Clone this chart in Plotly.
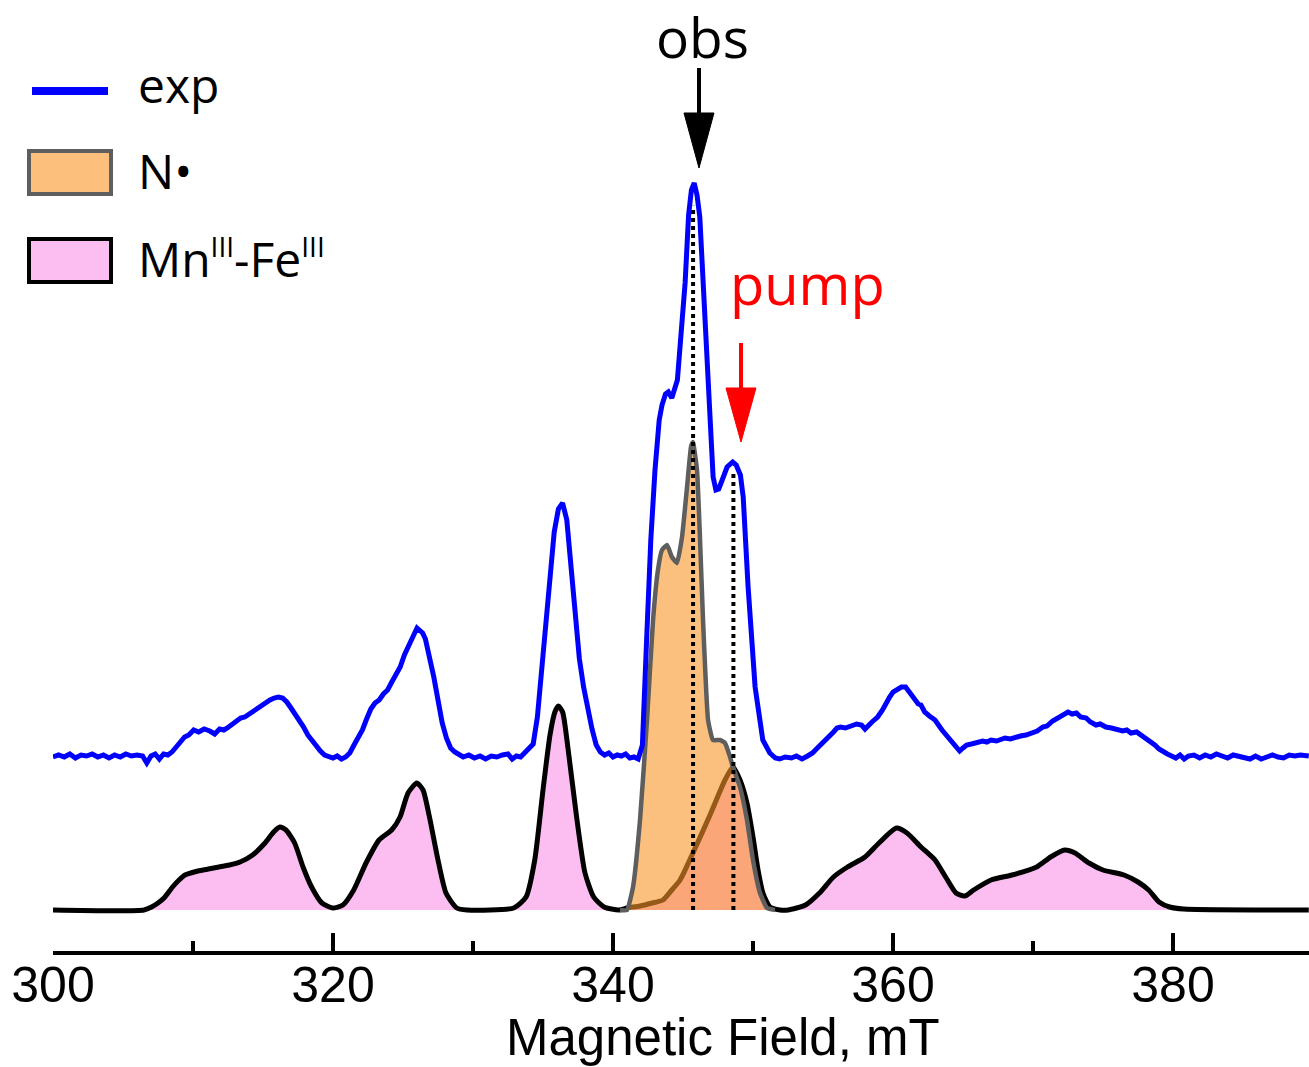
import numpy as np
import plotly.graph_objects as go

# ---------------- data ----------------
exp_field = [300.0, 300.4, 300.8, 301.2, 301.6, 302.0, 302.4, 302.8, 303.2, 303.6, 304.0, 304.4, 304.8, 305.2,
             305.6, 306.0, 306.4, 306.7, 307.0, 307.3, 307.6, 307.9, 308.2, 308.5, 308.8, 309.1, 309.4, 309.7,
             310.05, 310.4, 310.8, 311.2, 311.55, 311.9, 312.2, 312.45, 312.8, 313.1, 313.4, 313.7, 314.0, 314.3,
             314.6, 314.9, 315.2, 315.5, 315.8, 316.1, 316.4, 316.7, 317.0, 317.3, 317.6, 317.9, 318.2, 318.5,
             318.8, 319.1, 319.4, 319.7, 320.0, 320.3, 320.6, 320.9, 321.2, 321.5, 321.8, 322.1, 322.4, 322.7,
             323.0, 323.3, 323.6, 323.9, 324.2, 324.5, 324.8, 325.1, 325.4, 325.7, 326.0, 326.2, 326.4, 326.6,
             326.9, 327.2, 327.5, 327.8, 328.1, 328.4, 328.7, 329.0, 329.3, 329.7, 330.1, 330.5, 330.9, 331.3,
             331.7, 332.1, 332.5, 332.8, 333.1, 333.4, 333.7, 334.0, 334.3, 334.6, 334.9, 335.2, 335.5, 335.8,
             336.1, 336.4, 336.7, 337.0, 337.3, 337.6, 337.9, 338.2, 338.5, 338.8, 339.1, 339.4, 339.7, 340.0,
             340.3, 340.6, 340.9, 341.2, 341.5, 341.8, 342.1, 342.4, 342.7, 343.0, 343.3, 343.5, 343.75, 343.95,
             344.2, 344.6, 344.9, 345.15, 345.4, 345.6, 345.8, 346.0, 346.2, 346.45, 346.7, 346.95, 347.15,
             347.35, 347.55, 347.8, 348.15, 348.55, 348.8, 349.1, 349.3, 349.65, 350.15, 350.7, 351.2, 351.6,
             351.9, 352.3, 352.75, 353.1, 353.5, 353.9, 354.25, 354.6, 355.0, 355.4, 355.75, 356.0, 356.25,
             356.6, 357.0, 357.4, 357.75, 358.0, 358.5, 358.9, 359.25, 359.5, 359.76, 360.0, 360.3, 360.6, 360.9,
             361.1, 361.5, 361.8, 362.0, 362.26, 362.6, 363.0, 363.5, 363.8, 364.14, 364.5, 364.76, 365.0,
             365.26, 365.6, 366.0, 366.4, 366.7, 367.0, 367.4, 367.7, 368.0, 368.4, 368.8, 369.1, 369.5, 369.9,
             370.3, 370.7, 371.0, 371.4, 371.8, 372.2, 372.5, 372.8, 373.1, 373.4, 373.8, 374.1, 374.5, 374.8,
             375.2, 375.6, 376.0, 376.4, 376.7, 377.0, 377.4, 377.8, 378.1, 378.4, 378.7, 379.0, 379.3, 379.6,
             379.9, 380.2, 380.5, 380.8, 381.1, 381.5, 381.9, 382.3, 382.7, 383.1, 383.5, 383.9, 384.3, 384.7,
             385.1, 385.5, 385.9, 386.3, 386.7, 387.1, 387.5, 387.9, 388.3, 388.7, 389.1, 389.7]
exp_intensity = [0.00, 0.02, 0.00, 0.03, -0.01, 0.02, 0.01, 0.03, 0.00, 0.02, -0.01, 0.02, 0.00, 0.03,
                 0.01, 0.02, 0.01, -0.06, 0.01, 0.03, -0.02, 0.03, 0.02, 0.05, 0.10, 0.16, 0.20, 0.22,
                 0.27, 0.25, 0.28, 0.26, 0.23, 0.28, 0.27, 0.29, 0.33, 0.35, 0.39, 0.40, 0.43, 0.45,
                 0.48, 0.52, 0.55, 0.57, 0.59, 0.60, 0.59, 0.55, 0.49, 0.43, 0.37, 0.30, 0.22, 0.16,
                 0.10, 0.06, 0.02, 0.00, -0.01, 0.01, -0.02, 0.00, 0.04, 0.12, 0.20, 0.27, 0.38, 0.48,
                 0.54, 0.57, 0.63, 0.67, 0.75, 0.82, 0.90, 1.02, 1.10, 1.20, 1.29, 1.26, 1.24, 1.18,
                 1.01, 0.80, 0.57, 0.34, 0.19, 0.09, 0.05, 0.03, 0.00, 0.02, -0.01, 0.01, -0.02, 0.01,
                 0.00, 0.02, 0.03, -0.02, 0.01, 0.00, 0.04, 0.08, 0.13, 0.40, 0.85, 1.35, 1.80, 2.25,
                 2.48, 2.54, 2.37, 1.87, 1.37, 0.98, 0.70, 0.48, 0.28, 0.12, 0.05, 0.02, 0.04, 0.00,
                 0.02, 0.01, 0.03, -0.01, 0.00, -0.02, 0.12, 1.17, 2.17, 2.87, 3.37, 3.52, 3.63, 3.65,
                 3.59, 3.77, 4.24, 4.74, 5.42, 5.67, 5.74, 5.62, 5.40, 4.74, 4.07, 3.40, 2.80,
                 2.67, 2.68, 2.77, 2.90, 2.95, 2.92, 2.82, 2.60, 1.70, 0.70, 0.17, 0.04, -0.01,
                 -0.02, 0.00, -0.01, 0.01, -0.02, 0.01, 0.04, 0.09, 0.14, 0.20, 0.25, 0.29, 0.30,
                 0.29, 0.31, 0.33, 0.32, 0.28, 0.35, 0.40, 0.47, 0.54, 0.60, 0.65, 0.68, 0.70, 0.70,
                 0.66, 0.57, 0.53, 0.52, 0.45, 0.41, 0.37, 0.27, 0.22, 0.17, 0.11, 0.06, 0.09,
                 0.12, 0.13, 0.14, 0.16, 0.15, 0.17, 0.16, 0.18, 0.19, 0.18, 0.20, 0.21, 0.22, 0.24,
                 0.26, 0.30, 0.31, 0.36, 0.39, 0.43, 0.45, 0.43, 0.44, 0.40, 0.39, 0.35, 0.32, 0.33,
                 0.30, 0.29, 0.28, 0.26, 0.27, 0.24, 0.25, 0.21, 0.19, 0.16, 0.12, 0.08, 0.05, 0.03,
                 0.01, -0.01, 0.02, -0.02, 0.01, 0.02, -0.01, 0.02, 0.00, 0.03, 0.01, -0.01, 0.02, 0.01,
                 -0.01, -0.02, 0.01, -0.02, 0.00, 0.02, 0.00, -0.01, 0.02, 0.01, 0.02, 0.01]

mn_field = [300.0, 306.5, 307.04, 307.5, 307.93, 308.54, 309.0, 309.43, 310.36, 311.1, 311.86, 312.6, 313.36,
            314.26, 315.14, 315.76, 316.21, 316.64, 317.26, 317.86, 318.47, 319.21, 319.97, 320.71, 321.48,
            322.36, 323.29, 324.19, 324.79, 325.36, 325.99, 326.43, 326.89, 327.5, 328.07, 328.84, 329.57,
            332.91, 333.79, 334.41, 335.0, 335.5, 335.85, 336.1, 336.4, 336.8, 337.4, 338.0, 338.62, 339.36,
            340.43, 341.0, 341.93, 342.8, 343.57, 344.2, 344.79, 345.71, 346.93, 348.0, 348.57, 349.07,
            349.57, 350.0, 350.36, 350.71, 351.21, 351.93, 352.5, 353.75, 354.75, 355.75, 356.75, 358.0,
            359.0, 360.25, 361.0, 362.0, 363.0, 363.76, 364.5, 365.13, 365.76, 367.0, 368.5, 370.26,
            371.26, 372.26, 373.0, 374.0, 375.0, 376.5, 377.5, 378.26, 379.0, 379.76, 380.76, 389.7]
mn_intensity = [0.0, 0.0, 0.03, 0.07, 0.12, 0.23, 0.30, 0.35, 0.39, 0.41, 0.43, 0.45, 0.48,
                0.55, 0.67, 0.78, 0.83, 0.80, 0.67, 0.43, 0.23, 0.07, 0.02, 0.05, 0.20,
                0.47, 0.70, 0.80, 0.93, 1.17, 1.27, 1.20, 0.93, 0.50, 0.17, 0.02, 0.0,
                0.02, 0.13, 0.50, 1.20, 1.75, 1.98, 2.04, 1.98, 1.60, 0.93, 0.37, 0.13, 0.03,
                0.0, 0.02, 0.04, 0.07, 0.10, 0.20, 0.30, 0.57, 0.95, 1.30, 1.43, 1.30,
                1.07, 0.73, 0.40, 0.17, 0.03, 0.0, 0.0, 0.05, 0.17, 0.33, 0.43, 0.53,
                0.67, 0.82, 0.77, 0.63, 0.50, 0.33, 0.17, 0.14, 0.20, 0.30, 0.35, 0.43,
                0.53, 0.60, 0.57, 0.47, 0.40, 0.35, 0.28, 0.20, 0.08, 0.03, 0.01, 0.0]

n_field = [340.5, 341.0, 341.43, 341.93, 342.43, 342.86, 343.21, 343.5, 343.86, 344.21, 344.57, 344.93,
           345.29, 345.57, 345.71, 346.0, 346.21, 346.43, 346.79, 347.14, 347.64, 348.0, 348.36, 348.57,
           349.07, 349.57, 350.0, 350.5, 351.0, 351.57]
n_intensity = [0.0, 0.0, 0.23, 0.90, 1.90, 2.90, 3.40, 3.60, 3.65, 3.53, 3.47, 3.73,
               4.23, 4.63, 4.68, 4.40, 3.73, 2.90, 1.90, 1.70, 1.70, 1.67, 1.53, 1.43,
               1.23, 0.90, 0.50, 0.17, 0.02, 0.0]

obs_field = 345.72
pump_field = 348.6
tick_values = [300, 320, 340, 360, 380]
tick_labels = ["300", "320", "340", "360", "380"]

# ---------------- style / layout ----------------
EXP_OFFSET = 1.53
W, H = 1309, 1067
L, R, T, B = 53, 0, 0, 116
PLOT_W = W - L - R
PLOT_H = H - T - B


def px(xp):
    return (xp - L) / PLOT_W


def py(yp):
    return (H - B - yp) / PLOT_H


BLUE = "#0000ff"
PINK = "#fcbdf0"
ORANGE_FILL = "rgba(250,150,40,0.6)"
ORANGE_SOLID = "rgb(252,191,124)"
GRAY = "#5e5e5e"

fig = go.Figure()

fig.add_trace(go.Scatter(x=mn_field, y=mn_intensity, mode="lines", fill="tozeroy",
                         fillcolor=PINK, line=dict(color="black", width=5, shape="spline", smoothing=0.6),
                         showlegend=False, hoverinfo="skip"))
fig.add_trace(go.Scatter(x=n_field, y=n_intensity, mode="lines", fill="tozeroy",
                         fillcolor=ORANGE_FILL, line=dict(color=GRAY, width=4.5, shape="spline", smoothing=0.4),
                         showlegend=False, hoverinfo="skip"))
exp_y = [v + EXP_OFFSET for v in exp_intensity]
fig.add_trace(go.Scatter(x=exp_field, y=exp_y, mode="lines",
                         line=dict(color=BLUE, width=5),
                         showlegend=False, hoverinfo="skip"))

obs_top = float(np.interp(obs_field, exp_field, exp_y)) - 0.2
pump_top = float(np.interp(pump_field, exp_field, exp_y)) - 0.08
for xf, top in [(obs_field, obs_top), (pump_field, pump_top)]:
    fig.add_trace(go.Scatter(x=[xf, xf], y=[0, top], mode="lines",
                             line=dict(color="black", width=4, dash="dot"),
                             showlegend=False, hoverinfo="skip"))

shapes = []
# legend swatches
shapes.append(dict(type="line", xref="paper", yref="paper", x0=px(32), x1=px(108), y0=py(91), y1=py(91),
                   line=dict(color=BLUE, width=8)))
shapes.append(dict(type="rect", xref="paper", yref="paper", x0=px(29), x1=px(111), y0=py(151), y1=py(194),
                   fillcolor=ORANGE_SOLID, line=dict(color=GRAY, width=4)))
shapes.append(dict(type="rect", xref="paper", yref="paper", x0=px(29), x1=px(111), y0=py(239), y1=py(282),
                   fillcolor=PINK, line=dict(color="black", width=4)))


def arrow(xc, y_start, y_head, y_tip, half_w, color):
    shapes.append(dict(type="line", xref="paper", yref="paper", x0=px(xc), x1=px(xc),
                       y0=py(y_start), y1=py(y_head + 4), line=dict(color=color, width=4)))
    path = "M {:.5f},{:.5f} L {:.5f},{:.5f} L {:.5f},{:.5f} Z".format(
        px(xc - half_w), py(y_head), px(xc + half_w), py(y_head), px(xc), py(y_tip))
    shapes.append(dict(type="path", xref="paper", yref="paper", path=path,
                       fillcolor=color, line=dict(color=color, width=1)))


arrow(699, 68, 113, 168, 15, "black")
arrow(741, 343, 388, 442, 15, "#ff0000")

annotations = []
LEG_FONT = dict(family="Open Sans", size=48, color="black")
SUP = '<sup><span style="font-size:28px">III</span></sup>'
annotations.append(dict(xref="paper", yref="paper", x=px(136), y=py(84), text="exp", showarrow=False,
                        xanchor="left", yanchor="middle", font=LEG_FONT))
annotations.append(dict(xref="paper", yref="paper", x=px(136), y=py(170), text="N\u2022", showarrow=False,
                        xanchor="left", yanchor="middle", font=LEG_FONT))
annotations.append(dict(xref="paper", yref="paper", x=px(136), y=py(258),
                        text="Mn" + SUP + "-Fe" + SUP, showarrow=False,
                        xanchor="left", yanchor="middle", font=LEG_FONT))
annotations.append(dict(xref="paper", yref="paper", x=px(702), y=py(37), text="obs", showarrow=False,
                        xanchor="center", yanchor="middle",
                        font=dict(family="Open Sans", size=55, color="black")))
annotations.append(dict(xref="paper", yref="paper", x=px(807), y=py(283), text="pump", showarrow=False,
                        xanchor="center", yanchor="middle",
                        font=dict(family="Open Sans", size=56, color="#ff0000")))
annotations.append(dict(xref="paper", yref="paper", x=px(723), y=py(1037), text="Magnetic Field, mT",
                        showarrow=False, xanchor="center", yanchor="middle",
                        font=dict(family="Liberation Sans", size=51, color="black")))

fig.update_layout(
    width=W, height=H,
    margin=dict(l=L, r=R, t=T, b=B, pad=0),
    paper_bgcolor="white", plot_bgcolor="white",
    shapes=shapes, annotations=annotations,
    xaxis=dict(range=[300, 300 + PLOT_W / 14.0], showgrid=False, zeroline=False,
               showline=True, linecolor="black", linewidth=4,
               ticks="inside", ticklen=18, tickwidth=4, tickcolor="black",
               tickvals=tick_values, ticktext=tick_labels,
               tickfont=dict(family="Liberation Sans", size=50, color="black"),
               ticklabelstandoff=-13,
               minor=dict(tickvals=[310, 330, 350, 370], ticks="inside", ticklen=10,
                          tickwidth=4, tickcolor="black")),
    yaxis=dict(range=[-0.41, 9.10], visible=False, showgrid=False, zeroline=False),
)

fig.write_html("out.html", config={"displayModeBar": False},
               post_script="document.body.style.margin='0px';")
